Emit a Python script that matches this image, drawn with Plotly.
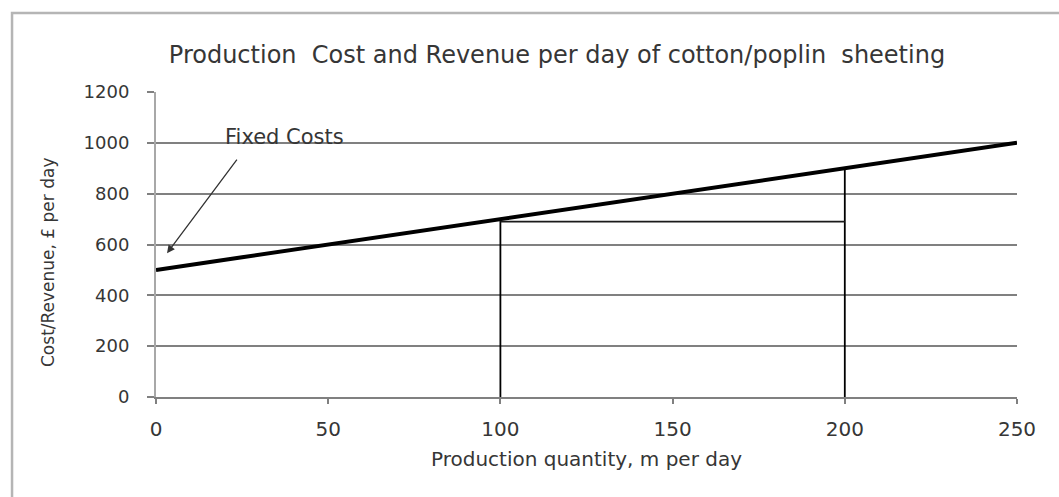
import plotly.graph_objects as go

# Production quantity (m per day) and total cost/revenue (£ per day)
quantity = [0, 50, 100, 150, 200, 250]
cost_revenue = [500, 600, 700, 800, 900, 1000]

# Drop lines to the cost line at two production levels
drop_x = [100, 200]
drop_y = [700, 900]

# Horizontal reference between the two drop lines
level_x = [100, 200]
level_y = [690, 690]

# Fixed-cost label and the point its arrow marks
fixed_label = "Fixed Costs"
fixed_label_pos = (37.2, 1023)
fixed_arrow_tip = (3.2, 566)

x_ticks = [0, 50, 100, 150, 200, 250]
y_ticks = [0, 200, 400, 600, 800, 1000, 1200]

FONT = "'DejaVu Sans', Verdana, sans-serif"
TEXT = "#363636"
GRID = "#808080"

fig = go.Figure()

fig.add_trace(go.Scatter(
    x=quantity, y=cost_revenue, mode="lines",
    line=dict(color="black", width=4), showlegend=False, hoverinfo="skip",
))

for xv, yv in zip(drop_x, drop_y):
    fig.add_trace(go.Scatter(
        x=[xv, xv], y=[0, yv], mode="lines",
        line=dict(color="black", width=1.8), showlegend=False, hoverinfo="skip",
    ))

fig.add_trace(go.Scatter(
    x=level_x, y=level_y, mode="lines",
    line=dict(color="#1a1a1a", width=1.8), showlegend=False, hoverinfo="skip",
))

fig.add_annotation(
    x=fixed_label_pos[0], y=fixed_label_pos[1], xref="x", yref="y",
    text=fixed_label, showarrow=False,
    font=dict(family=FONT, size=21, color=TEXT),
)
fig.add_annotation(
    x=fixed_arrow_tip[0], y=fixed_arrow_tip[1], xref="x", yref="y",
    ax=71, ay=-95, axref="pixel", ayref="pixel",
    text="", showarrow=True, arrowhead=2, arrowsize=1.2, arrowwidth=1.3,
    arrowcolor="#333333",
)

# Vertical axis title, placed a little below the plot-area centre
fig.add_annotation(
    x=(36 - 156) / 861, y=(397 - 262) / 305, xref="x domain", yref="y domain",
    text="Cost/Revenue, £ per day", showarrow=False, textangle=-90,
    font=dict(family=FONT, size=17, color=TEXT),
)

# Outer chart frame
fig.add_shape(
    type="rect", xref="paper", yref="paper",
    x0=-0.1672, x1=1.2, y0=-0.6, y1=1.259,
    line=dict(color="#b5b5b5", width=2.5), fillcolor="rgba(0,0,0,0)",
    layer="below",
)

fig.update_layout(
    width=1059, height=497,
    margin=dict(l=156, r=42, t=92, b=100),
    paper_bgcolor="white", plot_bgcolor="white",
    title=dict(
        text="Production  Cost and Revenue per day of cotton/poplin  sheeting",
        x=557 / 1059, xref="container", xanchor="center",
        y=1 - 55 / 497, yref="container", yanchor="middle",
        font=dict(family=FONT, size=24, color=TEXT),
    ),
    xaxis=dict(
        range=[0, 250], tickvals=x_ticks, showgrid=False, zeroline=False,
        showline=True, linecolor=GRID, linewidth=2,
        ticks="outside", ticklen=5, tickcolor=GRID, tickwidth=1.5,
        ticklabelstandoff=8,
        tickfont=dict(family=FONT, size=20, color=TEXT),
        title=dict(text="Production quantity, m per day", standoff=12,
                   font=dict(family=FONT, size=20, color=TEXT)),
    ),
    yaxis=dict(
        range=[0, 1200], tickvals=y_ticks, showgrid=True, gridcolor=GRID,
        gridwidth=2, zeroline=False,
        showline=True, linecolor="#a8a8a8", linewidth=2,
        ticks="outside", ticklen=7, tickcolor=GRID, tickwidth=2,
        ticklabelstandoff=14,
        tickfont=dict(family=FONT, size=18, color=TEXT),
    ),
)

fig.write_html("out.html")
